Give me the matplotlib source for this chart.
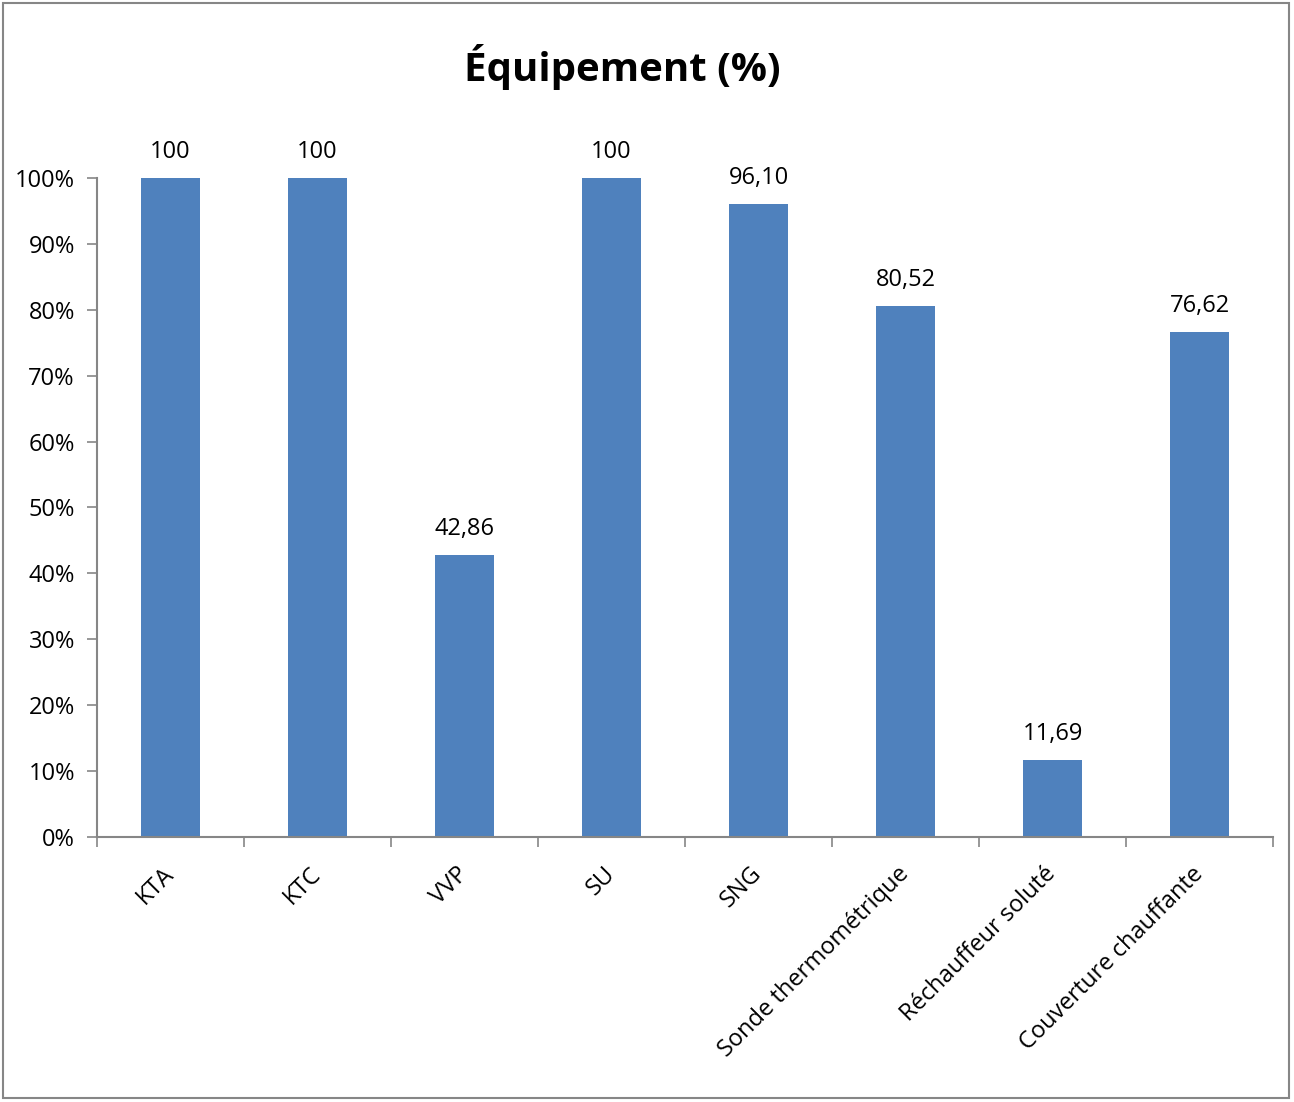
import matplotlib.pyplot as plt
from matplotlib.patches import Rectangle
from matplotlib.ticker import FuncFormatter
import numpy as np

plt.rcParams['font.family'] = ['Open Sans', 'DejaVu Sans']

categories = ['KTA', 'KTC', 'VVP', 'SU', 'SNG', 'Sonde thermométrique',
              'Réchauffeur soluté', 'Couverture chauffante']
values = [100, 100, 42.86, 100, 96.10, 80.52, 11.69, 76.62]
value_labels = ['100', '100', '42,86', '100', '96,10', '80,52', '11,69', '76,62']

fig = plt.figure(figsize=(12.94, 11.02), dpi=100)
ax = fig.add_axes([0.075, 0.2405, 0.9088, 0.598])

x = np.arange(len(categories))
frac = np.array(values) / 100
bars = ax.bar(x, frac, width=0.4, color='#4F81BD')

for xi, fi, lab in zip(x, frac, value_labels):
    ax.annotate(lab, (xi, fi), xytext=(0, 10), textcoords='offset points',
                ha='center', va='bottom', fontsize=17)

ax.set_xlim(-0.5, len(categories) - 0.5)
ax.set_ylim(0, 1)
ax.set_yticks(np.arange(0, 1.01, 0.1))
ax.yaxis.set_major_formatter(FuncFormatter(lambda v, p: '%d%%' % round(v * 100)))

ax.set_xticks(x)
ax.set_xticklabels(categories, rotation=45, ha='right', va='center',
                   rotation_mode='anchor', fontsize=17)
ax.tick_params(axis='x', length=0, pad=24)
ax.set_xticks(np.arange(-0.5, len(categories)), minor=True)
ax.tick_params(axis='x', which='minor', length=7, width=1.2, color='#868686')
ax.tick_params(axis='y', length=7, width=1.2, color='#868686', labelsize=17, pad=9)

for s in ['top', 'right']:
    ax.spines[s].set_visible(False)
for s in ['left', 'bottom']:
    ax.spines[s].set_color('#868686')
    ax.spines[s].set_linewidth(1.5)

fig.text(0.481, 0.939, 'Équipement (%)', ha='center', va='center',
         fontsize=29, fontweight='bold')

fig.patches.append(Rectangle((0.002, 0.004), 0.994, 0.993, transform=fig.transFigure,
                             fill=False, edgecolor='#868686', linewidth=1.5))

fig.savefig('out.png', dpi=100)
